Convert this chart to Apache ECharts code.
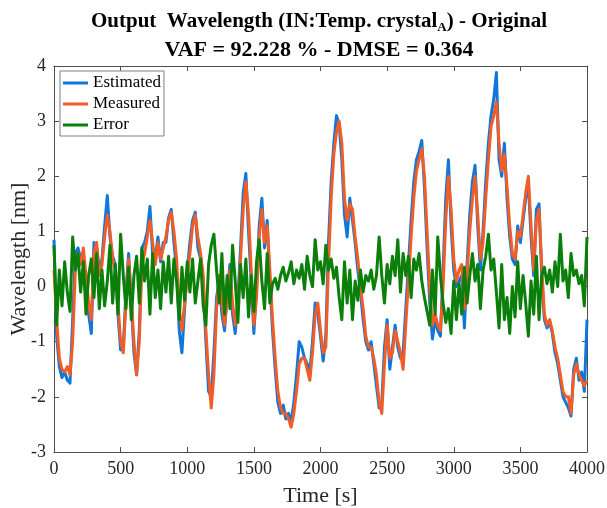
<!DOCTYPE html>
<html>
<head>
<meta charset="utf-8">
<script src="https://cdn.jsdelivr.net/npm/echarts@6/dist/echarts.min.js"></script>
<style>
  html, body { margin: 0; padding: 0; background: #fff; }
  #chart { width: 607px; height: 508px; }
</style>
</head>
<body>
<div id="chart"></div>
<script>
// Sampling step of the recorded signals, in seconds
const sampleStep = 20;

// Model output (nm)
const estimated = [
  0.85, -0.9, -1.45, -1.65, -1.55, -1.7, -1.75, -0.6, 0.6, 0.7,
  0.5, 0.6, 0.0, -0.5, -0.85, 0.8, 0.7, 0.3, 0.5, 1.1,
  1.65, 0.9, 0.55, 0.4, -0.5, -1.15, -1.1, -0.1, 0.6, -0.3,
  -1.2, -1.6, -0.8, 0.7, 0.8, 1.0, 1.45, 0.6, 0.5, 0.9,
  0.45, 0.8, 0.8, 1.25, 1.4, 0.8, 0.3, -0.8, -1.2, -0.4,
  0.3, 0.8, 1.2, 1.35, 0.7, 0.5, 0.0, -1.0, -1.9, -2.0,
  -1.2, -0.2, 0.1, -0.5, -0.8, -0.1, 0.4, -0.5, -0.85, -0.2,
  0.7, 1.7, 2.05, 1.0, 0.1, -0.85, 0.0, 1.1, 1.6, 0.7,
  1.2, 0.1, -0.8, -1.5, -2.1, -2.3, -2.15, -2.4, -2.3, -2.45,
  -2.1, -1.6, -1.0, -1.1, -1.3, -1.4, -1.55, -1.0, -0.3, -0.5,
  -0.9, -1.35, -0.9, 0.8, 1.9, 2.6, 3.1, 2.95, 2.3, 1.3,
  0.9, 1.6, 1.2, 0.8, 0.3, -0.1, -0.6, -1.0, -1.15, -1.0,
  -1.4, -1.8, -2.2, -2.1, -1.1, -0.6, -1.5, -1.1, -0.7, -1.1,
  -1.3, -1.2, -0.4, 0.4, 1.2, 1.9, 2.3, 2.45, 2.65, 1.8,
  0.7, -0.3, -0.95, -0.6, -0.8, -0.9, 0.3, 1.6, 2.3, 1.1,
  0.3, 0.0, 0.1, 0.2, -0.75, 0.4, 1.3, 1.9, 2.2, 1.1,
  0.3, 1.0, 1.9, 2.6, 3.1, 3.4, 3.88, 2.3, 2.0, 2.6,
  1.6, 0.9, 0.5, 0.4, 1.1, 0.8, 1.2, 1.6, 1.85, 0.9,
  0.2, 1.4, 1.5, 0.2, -0.6, -0.75, -0.65, -0.85, -1.2, -1.4,
  -1.7, -2.0, -2.1, -2.2, -2.35, -1.5, -1.3, -1.7, -1.55, -1.9,
  -0.6
];

// Sensor reading (nm)
const measured = [
  0.3, -0.6, -1.3, -1.5, -1.55, -1.45, -1.6, -1.0, 0.3, 0.6,
  0.4, 0.7, 0.2, -0.3, -0.6, 0.6, 0.8, 0.2, 0.4, 0.9,
  1.3, 1.0, 0.5, 0.3, -0.3, -1.0, -1.2, -0.3, 0.5, -0.2,
  -1.0, -1.6, -1.0, 0.4, 0.6, 0.9, 1.2, 0.8, 0.4, 0.8,
  0.5, 0.7, 0.9, 1.2, 1.35, 1.0, 0.5, -0.4, -0.8, -0.3,
  0.2, 0.6, 1.1, 1.3, 0.9, 0.6, 0.2, -0.8, -1.6, -2.2,
  -1.6, -0.4, 0.2, -0.3, -0.7, -0.2, 0.3, -0.3, -0.7, -0.3,
  0.5, 1.4, 1.9, 1.3, 0.3, -0.7, -0.2, 0.9, 1.4, 0.8,
  1.1, 0.3, -0.6, -1.3, -1.9, -2.2, -2.3, -2.3, -2.4, -2.55,
  -2.3, -1.9, -1.4, -1.3, -1.3, -1.5, -1.7, -1.2, -0.5, -0.3,
  -0.8, -1.2, -1.1, 0.4, 1.6, 2.4, 2.8, 3.0, 2.6, 1.6,
  1.2, 1.5, 1.4, 0.9, 0.5, 0.0, -0.4, -0.9, -1.1, -1.1,
  -1.3, -1.6, -2.1, -2.3, -1.4, -0.7, -1.3, -1.2, -0.8, -1.0,
  -1.2, -1.5, -0.7, 0.1, 0.9, 1.6, 2.1, 2.3, 2.5, 2.0,
  1.0, 0.0, -0.7, -0.5, -0.7, -0.8, 0.0, 1.2, 2.0, 1.4,
  0.5, 0.1, 0.3, 0.4, -0.4, 0.2, 1.0, 1.6, 2.0, 1.3,
  0.5, 0.8, 1.6, 2.3, 2.9, 3.1, 3.35, 2.6, 2.1, 2.4,
  1.8, 1.1, 0.6, 0.5, 1.0, 0.9, 1.3, 1.7, 2.0, 1.1,
  0.3, 1.2, 1.4, 0.4, -0.5, -0.7, -0.6, -0.8, -1.1, -1.3,
  -1.6, -1.9, -2.0, -2.0, -2.3, -1.6, -1.4, -1.6, -1.7, -1.8,
  -1.7
];

// Residual between model and sensor (nm)
const residual = [
  0.75, -0.7, 0.3, -0.35, 0.45, -0.1, -0.45, 0.9, 0.3, 0.6,
  -0.1, 0.45, -0.5, 0.2, 0.5, -0.2, 0.6, -0.4, 0.3, -0.35,
  0.1, 0.75, -0.3, 0.4, -0.5, 0.95, 0.2, -0.4, 0.35, -0.6,
  0.2, 0.55, -0.3, 0.7, 0.1, 0.5, -0.5, 0.6, -0.2, 0.3,
  -0.4, 0.45, -0.1, 0.55, -0.3, 0.5, 0.1, -0.6, 0.35, -0.25,
  0.45, -0.1, 0.5, -0.3, 0.1, 0.5, -0.35, -0.7, 0.4, 0.75,
  0.95, 0.3, -0.3, 0.6, -0.5, 0.2, -0.4, 0.75, 0.1, -0.65,
  0.4, -0.2, 0.5, -0.55, 0.2, -0.45, 0.45, 0.85, 0.1, -0.4,
  0.6, -0.3, 0.05, 0.15, -0.05, 0.2, 0.35, 0.1, 0.25, 0.45,
  0.05, 0.3, 0.15, 0.4, -0.05, 0.55, 0.2, 0.0, 0.85, 0.3,
  0.45, 0.05, 0.75, 0.3, 0.5, 0.15, 0.35, -0.2, -0.6, 0.45,
  -0.3, 0.3, -0.6, 0.1, -0.25, 0.3, -0.1, 0.2, 0.1, 0.3,
  -0.05, 0.2, 0.9, 0.2, -0.3, 0.4, 0.05, 0.55, 0.2, 0.85,
  -0.1, 0.6, 0.2, 0.55, -0.2, 0.5, 0.3, 0.6, 0.1, -0.2,
  -0.45, -0.7, 0.3, -0.5, 0.9, 0.2, -0.3, -0.65, -0.4, -0.85,
  0.1, -0.6, 0.05, -0.5, 0.35, -0.3, 0.2, 0.6, 0.1, 0.4,
  -0.4, 0.3, 0.55, 0.95, 0.3, 0.5, -0.1, -0.75, 0.4, -0.6,
  -0.2, -0.85, 0.0, -0.55, 0.45, -0.4, 0.2, -0.3, -0.9, 0.1,
  -0.5, 0.55, -0.6, 0.2, 0.35, 0.05, 0.3, -0.1, 0.45, 0.0,
  0.95, 0.1, 0.3, -0.2, 0.6, 0.2, 0.3, 0.05, 0.2, -0.35,
  0.9
];

// Axis tick values
const xTicks = { min: 0, max: 4000, step: 500 };
const yTicks = { min: -3, max: 4, step: 1 };

const seriesNames = ['Estimated', 'Measured', 'Error'];
const seriesColors = ['#0f77d9', '#f25c26', '#0a800a'];

const pairs = vals => vals.map((v, i) => [i * sampleStep, v]);

const serif = 'Liberation Serif';
const axisGrey = '#4d4d4d';
const textDark = '#262626';

const chart = echarts.init(document.getElementById('chart'), null, { renderer: 'canvas' });

const baseX = {
  type: 'value', min: xTicks.min, max: xTicks.max, interval: xTicks.step,
  splitLine: { show: false },
  axisLine: { show: true, onZero: false, lineStyle: { color: axisGrey, width: 1 } },
  axisTick: { show: true, inside: true, length: 5, lineStyle: { color: axisGrey } }
};
const baseY = {
  type: 'value', min: yTicks.min, max: yTicks.max, interval: yTicks.step,
  splitLine: { show: false },
  axisLine: { show: true, onZero: false, lineStyle: { color: axisGrey, width: 1 } },
  axisTick: { show: true, inside: true, length: 5, lineStyle: { color: axisGrey } }
};

chart.setOption({
  animation: false,
  backgroundColor: '#fff',
  title: [
    {
      left: 314, top: 4, textAlign: 'center',
      text: '{t|Output  Wavelength (IN:Temp. crystal}{s|A}{t|) - Original}',
      textStyle: {
        rich: {
          t: { fontFamily: serif, fontWeight: 'bold', fontSize: 21, color: '#000', lineHeight: 25 },
          s: { fontFamily: serif, fontWeight: 'bold', fontSize: 13, color: '#000', lineHeight: 14, verticalAlign: 'bottom' }
        }
      }
    },
    {
      left: 314, top: 34, textAlign: 'center',
      text: 'VAF = 92.228 % - DMSE = 0.364',
      textStyle: { fontFamily: serif, fontWeight: 'bold', fontSize: 22, color: '#000' }
    }
  ],
  legend: {
    orient: 'vertical',
    left: 60, top: 71,
    data: seriesNames,
    icon: 'rect',
    itemWidth: 25, itemHeight: 3, itemGap: 3,
    padding: [3, 3, 2, 3],
    backgroundColor: '#fff',
    borderColor: '#7f7f7f', borderWidth: 1, borderRadius: 0,
    textStyle: { fontFamily: serif, fontSize: 17, color: '#000', lineHeight: 18 }
  },
  grid: { left: 54, right: 20, top: 66, bottom: 56, containLabel: false, outerBoundsMode: 'none' },
  xAxis: [
    Object.assign({}, baseX, {
      position: 'bottom',
      name: 'Time [s]', nameLocation: 'middle', nameGap: 33, nameMoveOverlap: false,
      nameTextStyle: { fontFamily: serif, fontSize: 22, color: textDark },
      axisLabel: { fontFamily: serif, fontSize: 18, color: textDark, margin: 8, formatter: v => String(v) }
    }),
    Object.assign({}, baseX, { position: 'top', axisLabel: { show: false } })
  ],
  yAxis: [
    Object.assign({}, baseY, {
      position: 'left',
      name: 'Wavelength [nm]', nameLocation: 'middle', nameGap: 24, nameMoveOverlap: false,
      nameTextStyle: { fontFamily: serif, fontSize: 22, color: textDark },
      axisLabel: { fontFamily: serif, fontSize: 18, color: textDark, margin: 8, formatter: v => String(v) }
    }),
    Object.assign({}, baseY, { position: 'right', axisLabel: { show: false } })
  ],
  series: [
    { name: seriesNames[0], data: pairs(estimated) },
    { name: seriesNames[1], data: pairs(measured) },
    { name: seriesNames[2], data: pairs(residual) }
  ].map((s, i) => Object.assign(s, {
    type: 'line', xAxisIndex: 0, yAxisIndex: 0,
    showSymbol: false, symbol: 'none',
    color: seriesColors[i],
    lineStyle: { color: seriesColors[i], width: 3, join: 'round' },
    z: 2 + i
  }))
});
</script>
</body>
</html>
